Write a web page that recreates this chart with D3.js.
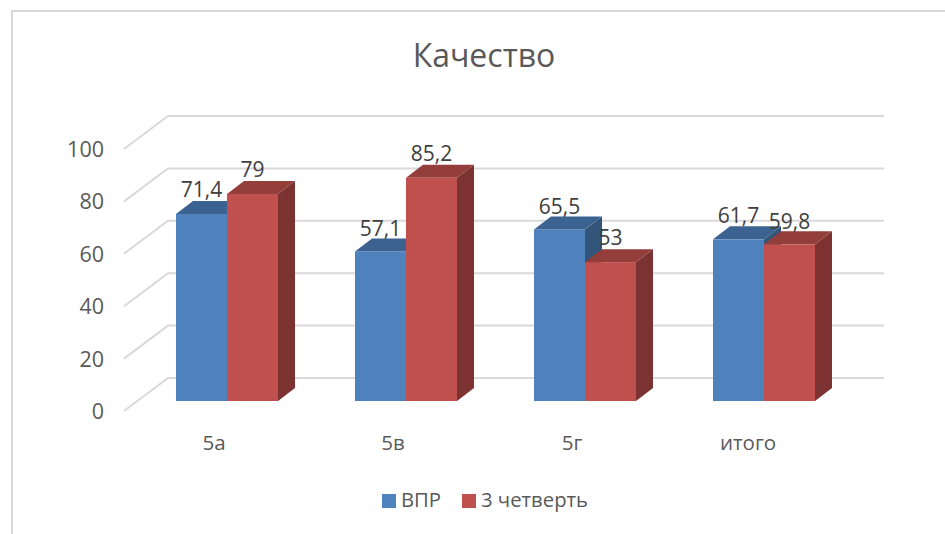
<!DOCTYPE html>
<html><head><meta charset="utf-8">
<script src="https://cdn.jsdelivr.net/npm/d3@7"></script>
<style>html,body{margin:0;padding:0;background:#fff;overflow:hidden}svg{display:block}text{font-family:"Open Sans","Noto Sans",sans-serif}</style>
</head><body><div id="c"></div>
<script>
const categories = ["5а","5в","5г","итого"];
const seriesNames = ["ВПР","3 четверть"];
const vpr = [71.4,57.1,65.5,61.7];
const q3 = [79,85.2,53,59.8];
const ticks = [0,20,40,60,80,100];
const catLabelShift = [-13,-13,-13,-16];
const labelDrop = [[17,17],[15,17],[15,17],[16,15]];

const W=945,H=534;
const svg=d3.select("#c").append("svg").attr("width",W).attr("height",H);
const front0=401, ph=262, depthX=17, depthY=13;
const gridDX=44, gridDY=33;
const y=d3.scaleLinear().domain([0,100]).range([front0,front0-ph]);
const x=d3.scaleBand().domain(categories).range([137.5,853.5]).paddingInner(0).paddingOuter(0);
const barW=51;
const colors=[{f:"#4f81bd",t:"#3b6290",s:"#335579"},{f:"#c0504d",t:"#933e3b",s:"#7c3230"}];
const gc="#d9d9d9";

svg.append("path").attr("d","M12,534V11H945").attr("fill","none").attr("stroke",gc).attr("stroke-width",2);

const gridFrontX=124, gridBackX=gridFrontX+gridDX, gridRight=884;
ticks.forEach(t=>{
  const yf=y(t)+10, yb=yf-gridDY;
  svg.append("path").attr("d",`M${gridFrontX},${yf}L${gridBackX},${yb}H${gridRight}`)
    .attr("fill","none").attr("stroke",gc).attr("stroke-width",2);
  svg.append("text").attr("x",104).attr("y",yf+8).attr("text-anchor","end")
    .attr("font-size",21.5).attr("fill","#595959").text(t);
});

categories.forEach((c,i)=>{
  const c0=x(c)+x.bandwidth()/2;
  [vpr[i],q3[i]].forEach((v,k)=>{
    const xl=c0-barW+k*barW, xr=xl+barW, yt=y(v), col=colors[k];
    const g=svg.append("g");
    g.append("path").attr("fill",col.s).attr("d",`M${xr},${yt}l${depthX},${-depthY}V${front0-depthY}l${-depthX},${depthY}Z`);
    g.append("path").attr("fill",col.t).attr("d",`M${xl},${yt}l${depthX},${-depthY}H${xr+depthX}l${-depthX},${depthY}Z`);
    g.append("rect").attr("x",xl).attr("y",yt).attr("width",barW).attr("height",front0-yt).attr("fill",col.f);
  });
});

categories.forEach((c,i)=>{
  const c0=x(c)+x.bandwidth()/2;
  [vpr[i],q3[i]].forEach((v,k)=>{
    svg.append("text").attr("x",c0-barW/2+k*barW).attr("y",y(v)-labelDrop[i][k])
      .attr("text-anchor","middle").attr("font-size",21).attr("fill","#404040")
      .text(String(v).replace(".",","));
  });
  svg.append("text").attr("x",c0+catLabelShift[i]).attr("y",450).attr("text-anchor","middle")
    .attr("font-size",20.5).attr("fill","#595959").text(c);
});

svg.append("text").attr("x",484).attr("y",67).attr("text-anchor","middle")
  .attr("font-size",32).attr("fill","#595959").text("Качество");

const legendX=[382,462];
seriesNames.forEach((s,k)=>{
  svg.append("rect").attr("x",legendX[k]).attr("y",494).attr("width",14).attr("height",14).attr("fill",colors[k].f);
  svg.append("text").attr("x",legendX[k]+19).attr("y",507).attr("font-size",20.3).attr("fill","#595959").text(s);
});
</script></body></html>
